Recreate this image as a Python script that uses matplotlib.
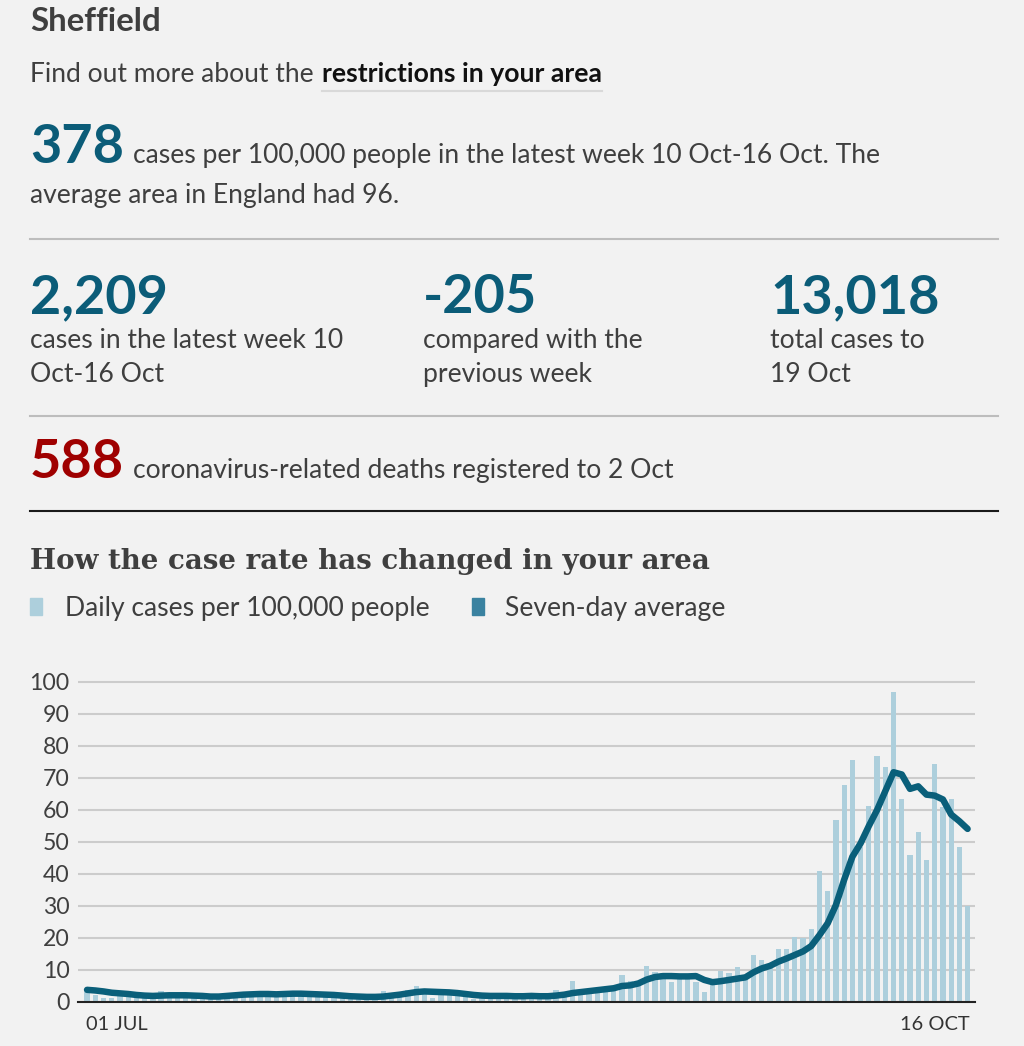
import matplotlib
matplotlib.use("Agg")
import matplotlib.pyplot as plt
import matplotlib.transforms as mtransforms
import numpy as np

# ---------------- data ----------------
area = "Sheffield"
rate_week = "378"
avg_england = "96"
cases_week = "2,209"
change_week = "-205"
total_cases = "13,018"
deaths = "588"

daily_cases = [
    3.0, 2.2, 1.4, 1.1, 1.8, 2.0, 1.6, 2.4, 1.9, 3.4,
    2.2, 1.8, 2.3, 1.5, 2.0, 1.4, 1.7, 2.4, 2.6, 2.0,
    2.9, 2.5, 2.2, 3.0, 2.6, 2.3, 2.8, 2.6, 2.2, 2.5,
    2.0, 1.8, 1.4, 1.6, 1.5, 1.8, 3.4, 2.6, 2.9, 3.6,
    5.0, 3.6, 1.4, 3.3, 3.1, 3.4, 2.5, 1.0, 2.2, 2.0,
    1.8, 1.9, 1.6, 2.0, 2.4, 1.5, 1.9, 3.75, 1.7, 6.6,
    2.5, 3.0, 3.2, 3.8, 4.5, 8.5, 6.7, 6.4, 11.2, 9.3,
    9.0, 6.4, 8.1, 7.9, 6.4, 3.2, 6.0, 9.8, 9.2, 11.0,
    7.9, 14.6, 13.0, 11.0, 16.6, 16.5, 20.3, 20.0, 22.9, 40.9,
    34.7, 56.9, 67.8, 75.6, 48.5, 61.3, 76.9, 73.5, 96.8, 63.4,
    45.8, 53.1, 44.4, 74.5, 60.8, 63.3, 48.3, 30.1,
]
seven_day_avg = [
    3.8, 3.6, 3.3, 2.9, 2.7, 2.5, 2.2, 2.0, 1.9, 2.0,
    2.1, 2.1, 2.1, 2.0, 1.9, 1.7, 1.7, 1.9, 2.1, 2.3,
    2.4, 2.5, 2.5, 2.4, 2.5, 2.6, 2.6, 2.5, 2.4, 2.3,
    2.2, 2.0, 1.8, 1.7, 1.6, 1.6, 1.7, 2.0, 2.3, 2.7,
    3.1, 3.3, 3.2, 3.1, 3.0, 2.8, 2.5, 2.2, 2.0, 1.9,
    1.9, 1.9, 1.8, 1.8, 1.9, 1.8, 1.8, 2.0, 2.3, 2.8,
    3.1, 3.4, 3.7, 4.0, 4.3, 5.0, 5.2, 5.8, 7.0, 7.8,
    8.1, 8.1, 8.0, 8.0, 8.1, 6.9, 6.2, 6.5, 6.9, 7.3,
    7.7, 9.3, 10.5, 11.3, 12.6, 13.6, 14.7, 15.8, 17.5, 20.9,
    24.6, 30.3, 38.2, 45.4, 49.6, 55.0, 60.0, 65.9, 71.8, 71.1,
    66.6, 67.4, 64.8, 64.5, 63.3, 58.6, 56.5, 54.1,
]
y_ticks = [0, 10, 20, 30, 40, 50, 60, 70, 80, 90, 100]
x_labels = ["01 JUL", "16 OCT"]

# ---------------- style ----------------
BG = "#f2f2f2"
TEXT = "#3f3f3f"
TEAL = "#0b5c78"
RED = "#9f0000"
BAR = "#adcfdc"
LINE = "#0a5f7a"
SANS = ["Lato", "DejaVu Sans"]
SERIF = ["DejaVu Serif"]
BODY = 26.5

W, H = 1024, 1046
fig = plt.figure(figsize=(W / 100, H / 100), dpi=100, facecolor=BG)
renderer = fig.canvas.get_renderer()


def fx(x):
    return x / W


def fy(y):
    return 1 - y / H


def px(p):  # pixel size -> points
    return p * 0.72


def txt(x, y, s, size, color=TEXT, weight="normal", family=SANS, ha="left"):
    return fig.text(fx(x), fy(y), s, fontsize=px(size), color=color, fontweight=weight,
                    family=family, ha=ha, va="baseline")


def hline(y, x0, x1, color, lw):
    fig.add_artist(plt.Line2D([fx(x0), fx(x1)], [fy(y), fy(y)], color=color,
                              lw=lw, transform=fig.transFigure))


# header
txt(30, 31, area, 33, weight="bold")
t = txt(30, 82, "Find out more about the", BODY)
x_end = t.get_window_extent(renderer).x1 + 8
t2 = txt(x_end, 82, "restrictions in your area", BODY, color="#111111", weight="bold")
x_end2 = t2.get_window_extent(renderer).x1
hline(91, x_end, x_end2, "#d9d9d9", 1.5)

txt(30, 163, rate_week, 54, color=TEAL, weight="bold")
txt(133, 163, "cases per 100,000 people in the latest week 10 Oct-16 Oct. The", BODY)
txt(30, 203, f"average area in England had {avg_england}.", BODY)
hline(239, 30, 998, "#bdbdbd", 1.5)

txt(30, 313, cases_week, 54, color=TEAL, weight="bold")
txt(30, 348, "cases in the latest week 10", BODY)
txt(30, 382, "Oct-16 Oct", BODY)
txt(423, 313, change_week, 54, color=TEAL, weight="bold")
txt(423, 348, "compared with the", BODY)
txt(423, 382, "previous week", BODY)
txt(770, 313, total_cases, 54, color=TEAL, weight="bold")
txt(770, 348, "total cases to", BODY)
txt(770, 382, "19 Oct", BODY)
hline(416, 30, 998, "#bdbdbd", 1.5)

txt(30, 478, deaths, 54, color=RED, weight="bold")
txt(133, 478, "coronavirus-related deaths registered to 2 Oct", BODY)
hline(511, 30, 998, "#1a1a1a", 1.5)

txt(30, 569, "How the case rate has changed in your area", 27.6, weight="bold", family=SERIF)

# legend
fig.add_artist(plt.Rectangle((fx(30), fy(615)), 12 / W, 17 / H, color=BAR,
                             transform=fig.transFigure))
txt(65, 616, "Daily cases per 100,000 people", BODY)
fig.add_artist(plt.Rectangle((fx(472), fy(615)), 12 / W, 17 / H, color="#3a82a0",
                             transform=fig.transFigure))
txt(505, 616, "Seven-day average", BODY)

# ---------------- chart ----------------
n = len(daily_cases)
x = np.arange(n)
ymax = 101
ax = fig.add_axes([fx(78), 44 / H, (975 - 78) / W, (3.2 * ymax) / H])
ax.set_facecolor("none")
ax.bar(x, daily_cases, width=0.64, color=BAR, zorder=2)
ax.plot(x, seven_day_avg, color=LINE, lw=px(6.5), solid_capstyle="round",
        solid_joinstyle="round", zorder=3)
ax.set_xlim(-1.1, 107.9)
ax.set_ylim(0, ymax)
ax.set_yticks(y_ticks)
ax.set_yticklabels([str(v) for v in y_ticks], fontsize=px(23), color=TEXT, family=SANS)
ax.yaxis.grid(True, color="#cccccc", lw=1.5, zorder=0)
ax.set_axisbelow(True)
ax.tick_params(axis="y", length=0, pad=6)
ax.set_xticks([])
for s in ["left", "right", "top"]:
    ax.spines[s].set_visible(False)
ax.spines["bottom"].set_color("#222222")
ax.spines["bottom"].set_linewidth(1.5)
ax.spines["bottom"].set_zorder(4)

trans = mtransforms.blended_transform_factory(ax.transData, fig.transFigure)
ax.text(x[0] - 0.1, fy(1030), x_labels[0], transform=trans, fontsize=px(20),
        color="#333333", family=SANS, ha="left", va="baseline")
ax.text(x[-1] + 0.2, fy(1030), x_labels[1], transform=trans, fontsize=px(20),
        color="#333333", family=SANS, ha="right", va="baseline")

fig.savefig("out.png", dpi=100, facecolor=BG)
